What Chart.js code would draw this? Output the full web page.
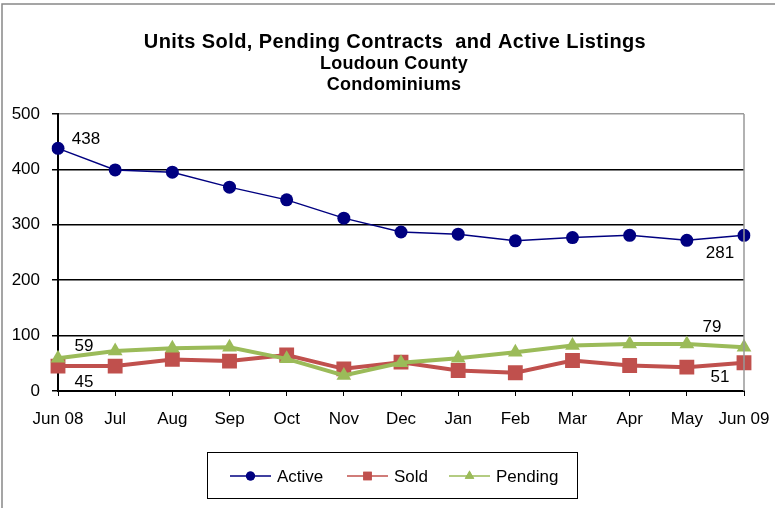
<!DOCTYPE html>
<html>
<head>
<meta charset="utf-8">
<script src="https://cdn.jsdelivr.net/npm/chart.js@4/dist/chart.umd.min.js"></script>
<style>
  html, body { margin: 0; padding: 0; background: #fff; }
  #wrap { position: relative; width: 775px; height: 508px; }
</style>
</head>
<body>
<div id="wrap"><canvas id="chart" width="775" height="508"></canvas></div>
<script>
// chart data
var months = ['Jun 08', 'Jul', 'Aug', 'Sep', 'Oct', 'Nov', 'Dec', 'Jan', 'Feb', 'Mar', 'Apr', 'May', 'Jun 09'];
var active = [438, 399, 395, 368, 345, 312, 287, 283, 271, 277, 281, 272, 281];
var sold = [45, 45, 57, 54, 65, 40, 52, 37, 33, 55, 46, 43, 51];
var pending = [59, 72, 77, 79, 58, 28, 51, 59, 70, 82, 85, 85, 79];
var yTicks = [0, 100, 200, 300, 400, 500];
var titleLines = ['Units Sold, Pending Contracts  and Active Listings', 'Loudoun County', 'Condominiums'];
var legendNames = ['Active', 'Sold', 'Pending'];

var FONT = "'Liberation Sans', Arial, sans-serif";
var navy = '#000080';
var red = '#C0504D';
var green = '#9BBB59';

// labels shown on the first and last points: [dataset, index, dx, dy]
var pointLabels = [
  [0, 0, 28, -9],
  [0, 12, -24, 18],
  [2, 0, 26, -12],
  [1, 0, 26, 16],
  [2, 12, -32, -20],
  [1, 12, -24, 15],
];

// frame, title, labels, legend
var extras = {
  id: 'extras',
  afterDraw: function (chart) {
    var ctx = chart.ctx;
    var area = chart.chartArea;
    ctx.save();

    // outer frame
    ctx.strokeStyle = '#888';
    ctx.lineWidth = 1.5;
    ctx.beginPath();
    ctx.moveTo(2, 508);
    ctx.lineTo(2, 4);
    ctx.lineTo(775, 4);
    ctx.stroke();

    // right border of plot
    ctx.strokeStyle = '#999';
    ctx.lineWidth = 1.5;
    ctx.beginPath();
    ctx.moveTo(area.right, area.top);
    ctx.lineTo(area.right, area.bottom);
    ctx.stroke();

    // title
    ctx.fillStyle = '#000';
    ctx.textAlign = 'center';
    ctx.textBaseline = 'middle';
    ctx.font = 'bold 20px ' + FONT;
    ctx.letterSpacing = '0.4px';
    ctx.fillText(titleLines[0], 395, 42);
    ctx.font = 'bold 18px ' + FONT;
    ctx.letterSpacing = '0.3px';
    ctx.fillText(titleLines[1], 394, 64);
    ctx.fillText(titleLines[2], 394, 85);
    ctx.letterSpacing = '0px';

    // data labels
    ctx.font = '17px ' + FONT;
    pointLabels.forEach(function (p) {
      var pt = chart.getDatasetMeta(p[0]).data[p[1]];
      var v = chart.data.datasets[p[0]].data[p[1]];
      ctx.fillText(String(v), pt.x + p[2], pt.y + p[3]);
    });

    // legend
    ctx.strokeStyle = '#000';
    ctx.lineWidth = 1;
    ctx.strokeRect(207.5, 452.5, 370, 46);
    var items = [
      { x: 230, color: navy, style: 'circle', r: 4.5 },
      { x: 347, color: red, style: 'rect', r: 6 },
      { x: 449, color: green, style: 'triangle', r: 5.5 },
    ];
    ctx.textAlign = 'left';
    items.forEach(function (it, i) {
      var y = 476;
      ctx.strokeStyle = it.color;
      ctx.lineWidth = 1.5;
      ctx.beginPath();
      ctx.moveTo(it.x, y);
      ctx.lineTo(it.x + 41, y);
      ctx.stroke();
      ctx.fillStyle = it.color;
      Chart.helpers.drawPoint(ctx, { pointStyle: it.style, radius: it.r, rotation: 0, borderWidth: 0 }, it.x + 20.5, y);
      ctx.fill();
      ctx.fillStyle = '#000';
      ctx.fillText(legendNames[i], it.x + 47, y + 1);
    });

    ctx.restore();
  },
};

new Chart(document.getElementById('chart'), {
  type: 'line',
  data: {
    labels: months,
    datasets: [
      {
        label: legendNames[0],
        data: active,
        borderColor: navy,
        backgroundColor: navy,
        borderWidth: 1.5,
        pointStyle: 'circle',
        pointRadius: 6.5,
        pointBorderWidth: 0,
        order: 2,
      },
      {
        label: legendNames[1],
        data: sold,
        borderColor: red,
        backgroundColor: red,
        borderWidth: 4,
        pointStyle: 'rect',
        pointRadius: 10.5,
        pointBorderWidth: 0,
        order: 1,
      },
      {
        label: legendNames[2],
        data: pending,
        borderColor: green,
        backgroundColor: green,
        borderWidth: 4,
        pointStyle: 'triangle',
        pointRadius: 8.5,
        pointBorderWidth: 0,
        order: 0,
      },
    ],
  },
  options: {
    responsive: false,
    animation: false,
    events: [],
    layout: { padding: { top: 114, left: 0, right: 31, bottom: 0 } },
    plugins: {
      legend: { display: false },
      title: { display: false },
      tooltip: { enabled: false },
    },
    scales: {
      x: {
        offset: false,
        afterFit: function (s) {
          s.height = 117;
          s.paddingLeft = 0;
          s.paddingRight = 0;
        },
        grid: {
          drawOnChartArea: false,
          drawTicks: true,
          tickLength: 5,
          tickColor: '#000',
        },
        border: { color: '#000', width: 2 },
        ticks: {
          color: '#000',
          font: { family: FONT, size: 17 },
          padding: 13,
          maxRotation: 0,
          autoSkip: false,
        },
      },
      y: {
        min: 0,
        max: 500,
        afterFit: function (s) { s.width = 58; },
        afterBuildTicks: function (s) {
          s.ticks = yTicks.map(function (v) { return { value: v }; });
        },
        grid: {
          color: function (c) { return c.tick && c.tick.value === 500 ? '#999' : '#000'; },
          lineWidth: 1.5,
          tickLength: 6,
          tickColor: '#000',
        },
        border: { color: '#000', width: 2 },
        ticks: {
          color: '#000',
          font: { family: FONT, size: 17 },
          padding: 12,
        },
      },
    },
  },
  plugins: [extras],
});
</script>
</body>
</html>
